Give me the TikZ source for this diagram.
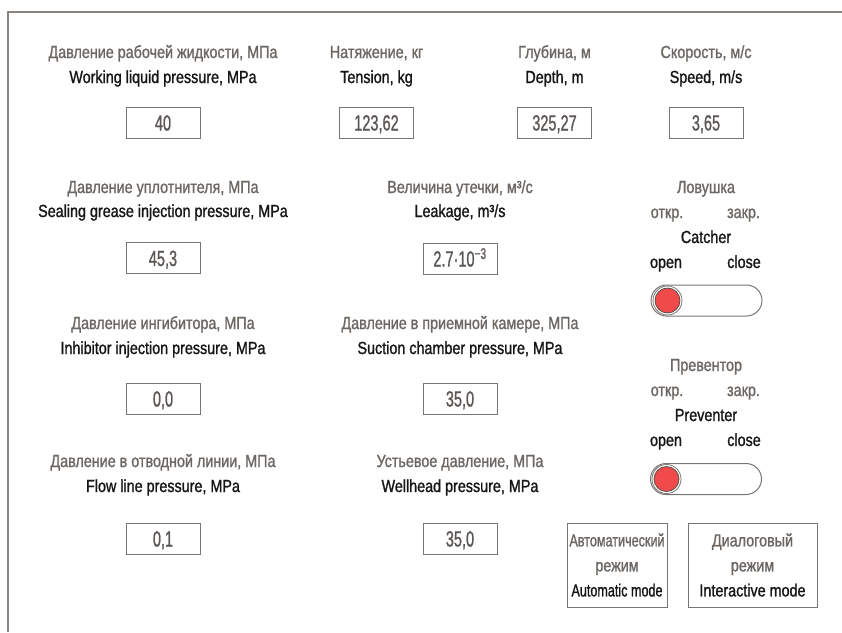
\documentclass[tikz,border=0pt]{standalone}
\usepackage{fontspec}
\setmainfont{Liberation Sans}[FakeStretch=0.82,FakeBold=1.2]
\newfontfamily\valuefont{Liberation Sans}[FakeStretch=0.66,FakeBold=1]
\newfontfamily\narrowfont{Liberation Sans}[FakeStretch=0.72,FakeBold=1.2]
\usepackage{xcolor}
\usepackage{tikz}
\definecolor{frameline}{RGB}{138,133,129}
\definecolor{rutext}{RGB}{108,103,99}
\definecolor{entext}{RGB}{22,22,22}
\definecolor{boxline}{RGB}{122,117,113}
\definecolor{knobred}{RGB}{240,74,74}
\definecolor{knobedge}{RGB}{85,80,76}

\begin{document}
\begin{tikzpicture}[x=1pt,y=-1pt,
  ru/.style={anchor=base,inner sep=0pt,text=rutext,font=\fontsize{17.5}{20}\selectfont},
  en/.style={anchor=base,inner sep=0pt,text=entext,font=\fontsize{17.5}{20}\selectfont},
  valbox/.style={draw=boxline,line width=1pt,minimum width=74pt,minimum height=31pt,
    inner sep=0pt,text height=16pt,text depth=0pt,text=rutext!85!black,
    font=\valuefont\fontsize{22}{22}\selectfont},
  pill/.style={draw=boxline,line width=1pt,minimum width=111pt,minimum height=31pt,
    rounded corners=15.5pt,inner sep=0pt},
  knob/.style={circle,fill=knobred,draw=knobedge,line width=0.8pt,minimum size=25pt,inner sep=0pt},
  ring/.style={draw=boxline,line width=0.8pt},
  modebox/.style={draw=boxline,line width=1pt,minimum height=84pt,inner sep=0pt,
    align=center,text=entext,font=\fontsize{17.5}{25}\selectfont},
  frame/.style={draw=frameline,line width=1.5pt}
]
\useasboundingbox (0,0) rectangle (842,632);
\coordinate (fbl) at (8,632);
\coordinate (ftr) at (842,12);
\draw[frame] (fbl) |- (ftr);

\node[ru] (wlpru) at (163,58) {Давление рабочей жидкости, МПа};
\node[en] (wlpen) at (163,83) {Working liquid pressure, MPa};
\node[valbox] (wlpval) at (163,122.5) {40};
\node[ru] (tenru) at (376.5,58) {Натяжение, кг};
\node[en] (tenen) at (376.5,83) {Tension, kg};
\node[valbox] (tenval) at (376.5,122.5) {123,62};
\node[ru] (depru) at (554.5,58) {Глубина, м};
\node[en] (depen) at (554.5,83) {Depth, m};
\node[valbox] (depval) at (554.5,122.5) {325,27};
\node[ru] (spdru) at (706,58) {Скорость, м/с};
\node[en] (spden) at (706,83) {Speed, m/s};
\node[valbox] (spdval) at (706,122.5) {3,65};

\node[ru] (sgpru) at (163,193) {Давление уплотнителя, МПа};
\node[en] (sgpen) at (163,217) {Sealing grease injection pressure, MPa};
\node[valbox] (sgpval) at (163,258) {45,3};
\node[ru] (lkgru) at (460,193) {Величина утечки, м³/с};
\node[en] (lkgen) at (460,217) {Leakage, m³/s};
\node[valbox] (lkgval) at (460,258.5) {2.7·10\textsuperscript{−3}};

\node[ru] (catru) at (706,193) {Ловушка};
\node[ru] (catopru) at (667,218) {откр.};
\node[ru] (catclru) at (743.5,218) {закр.};
\node[en] (caten) at (706,243) {Catcher};
\node[en] (catopen) at (666,268) {open};
\node[en] (catclen) at (744,268) {close};
\node[pill] (catsw) at (706.5,300.5) {};
\node[knob] (catknob) at (667.5,300.5) {};
\draw[ring] (catknob.center) circle[radius=14.5pt];

\node[ru] (inhru) at (163,329) {Давление ингибитора, МПа};
\node[en] (inhen) at (163,354) {Inhibitor injection pressure, MPa};
\node[valbox] (inhval) at (163,398.5) {0,0};
\node[ru] (sucru) at (460,329) {Давление в приемной камере, МПа};
\node[en] (sucen) at (460,354) {Suction chamber pressure, MPa};
\node[valbox] (sucval) at (460,398.5) {35,0};

\node[ru] (prvru) at (706,371) {Превентор};
\node[ru] (prvopru) at (667,396) {откр.};
\node[ru] (prvclru) at (743.5,396) {закр.};
\node[en] (prven) at (706,421) {Preventer};
\node[en] (prvopen) at (666,446) {open};
\node[en] (prvclen) at (744,446) {close};
\node[pill] (prvsw) at (706,479) {};
\node[knob] (prvknob) at (666.5,479) {};
\draw[ring] (prvknob.center) circle[radius=14.5pt];

\node[ru] (flpru) at (163,467) {Давление в отводной линии, МПа};
\node[en] (flpen) at (163,492) {Flow line pressure, MPa};
\node[valbox] (flpval) at (163,538.5) {0,1};
\node[ru] (whpru) at (460,467) {Устьевое давление, МПа};
\node[en] (whpen) at (460,492) {Wellhead pressure, MPa};
\node[valbox] (whpval) at (460,538.5) {35,0};

\node[modebox,minimum width=100pt] (automode) at (617,565)
  {\textcolor{rutext}{\narrowfont Автоматический}\\\textcolor{rutext}{режим}\\{\narrowfont Automatic mode}};
\node[modebox,minimum width=129pt] (dialmode) at (752.5,565)
  {\textcolor{rutext}{Диалоговый}\\\textcolor{rutext}{режим}\\Interactive mode};
\end{tikzpicture}
\end{document}
